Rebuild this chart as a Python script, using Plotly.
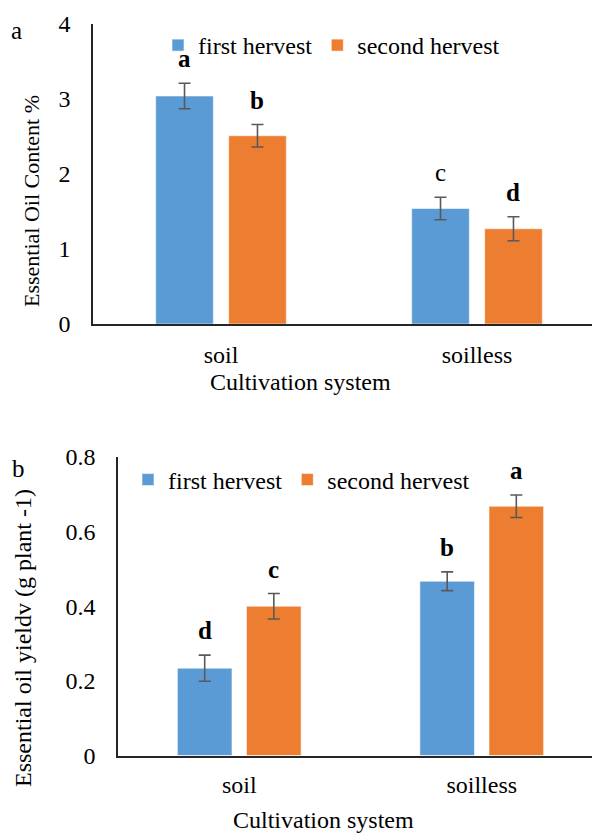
import plotly.graph_objects as go

# ---------------- data ----------------
categories = ["soil", "soilless"]
series_names = ["first hervest", "second hervest"]

oil_first = [3.04, 1.54]
oil_first_err = [0.17, 0.15]
oil_second = [2.51, 1.27]
oil_second_err = [0.15, 0.16]

yield_first = [0.234, 0.467]
yield_first_err = [0.035, 0.025]
yield_second = [0.40, 0.668]
yield_second_err = [0.034, 0.030]

oil_letters_first = ["a", "c"]
oil_letters_second = ["b", "d"]
yield_letters_first = ["d", "b"]
yield_letters_second = ["c", "a"]

oil_ticks = [0, 1, 2, 3, 4]
yield_ticks = [0, 0.2, 0.4, 0.6, 0.8]

# ---------------- style ----------------
FONT = "Liberation Serif"
BLUE = "#5B9BD5"
ORANGE = "#ED7D31"
ERR = "#595959"
AXIS = "#262626"
BARGAP = 0.43
BARGROUPGAP = 0.21
W, H = 600, 833
OFF = 8  # page body margin offset in the browser

# bold flags for significance letters (top chart 'c' is plain in the original)
oil_bold_first = [True, False]
oil_bold_second = [True, True]
yield_bold_first = [True, True]
yield_bold_second = [True, True]


def px_x(x):
    return (x - OFF) / W


def px_y(y):
    return 1 - (y - OFF) / H


fig = go.Figure()


def add_pair(xa, ya, legend, v1, e1, v2, e2):
    for name, vals, errs, col in [(series_names[0], v1, e1, BLUE),
                                  (series_names[1], v2, e2, ORANGE)]:
        fig.add_trace(go.Bar(
            x=categories, y=vals, name=name, xaxis=xa, yaxis=ya, legend=legend,
            marker=dict(color=col, line=dict(color="rgba(255,255,255,0.55)", width=1)),
            error_y=dict(type="data", array=errs, visible=True, color=ERR,
                         thickness=1.6, width=6),
        ))


add_pair("x", "y", "legend", oil_first, oil_first_err, oil_second, oil_second_err)
add_pair("x2", "y2", "legend2", yield_first, yield_first_err, yield_second, yield_second_err)

annotations = []


def letters(xref, yref, vals, errs, labs, bolds, side):
    off = (1 - BARGAP) / 4.0 * side
    for i, (v, e, t, b) in enumerate(zip(vals, errs, labs, bolds)):
        annotations.append(dict(
            x=i + off, y=v + e, xref=xref, yref=yref, text=f"<b>{t}</b>" if b else t,
            showarrow=False, yanchor="bottom", yshift=9,
            font=dict(family=FONT, size=25, color="black")))


letters("x", "y", oil_first, oil_first_err, oil_letters_first, oil_bold_first, -1)
letters("x", "y", oil_second, oil_second_err, oil_letters_second, oil_bold_second, 1)
letters("x2", "y2", yield_first, yield_first_err, yield_letters_first, yield_bold_first, -1)
letters("x2", "y2", yield_second, yield_second_err, yield_letters_second, yield_bold_second, 1)


def paper_text(text, px, py, size, angle=0):
    annotations.append(dict(
        x=px_x(px), y=px_y(py), xref="paper", yref="paper", text=text,
        showarrow=False, xanchor="center", yanchor="middle", textangle=angle,
        font=dict(family=FONT, size=size, color="black")))


paper_text("a", 16, 31, 25)
paper_text("b", 18, 468, 25)
paper_text("Essential Oil Content %", 32, 201, 22, -90)
paper_text("Essential oil yieldv (g plant -1)", 23, 638, 24, -90)
paper_text("Cultivation system", 300, 382, 24)
paper_text("Cultivation system", 323, 820, 24)

# geometry (target pixels)
top_axis_x, top_y0, top_y4 = 93, 324, 24
bot_axis_x, bot_y0, bot_y8 = 118, 755.5, 457
top_unit = 256.0
bot_unit = 242.5
right_edge = W + OFF

axis_common = dict(showline=True, linecolor=AXIS, linewidth=1.5, showgrid=False,
                   zeroline=False, ticks="", fixedrange=True, automargin=False,
                   tickfont=dict(family=FONT, size=24, color="black"))

fig.update_layout(
    width=W, height=H,
    margin=dict(l=0, r=0, t=0, b=0, autoexpand=False),
    paper_bgcolor="white", plot_bgcolor="white",
    barmode="group", bargap=BARGAP, bargroupgap=BARGROUPGAP,
    font=dict(family=FONT, color="black"),
    xaxis=dict(**axis_common, domain=[px_x(top_axis_x), 1], anchor="y",
               range=[-0.5, -0.5 + (right_edge - top_axis_x) / top_unit],
               ticklabelstandoff=8),
    yaxis=dict(**axis_common, domain=[px_y(top_y0), px_y(top_y4)], anchor="x",
               range=[0, 4], tickvals=oil_ticks, ticklabelstandoff=16),
    xaxis2=dict(**axis_common, domain=[px_x(bot_axis_x), 1], anchor="y2",
                range=[-0.5, -0.5 + (right_edge - bot_axis_x) / bot_unit],
                ticklabelstandoff=7),
    yaxis2=dict(**axis_common, domain=[px_y(bot_y0), px_y(bot_y8)], anchor="x2",
                range=[0, 0.8], tickvals=yield_ticks, ticktext=[f"{t:g}" for t in yield_ticks],
                ticklabelstandoff=16),
    legend=dict(orientation="h", x=px_x(158), y=px_y(45.5), xanchor="left", yanchor="middle",
                font=dict(family=FONT, size=24, color="black"), bgcolor="rgba(0,0,0,0)",
                traceorder="normal"),
    legend2=dict(orientation="h", x=px_x(128), y=px_y(480), xanchor="left", yanchor="middle",
                 font=dict(family=FONT, size=24, color="black"), bgcolor="rgba(0,0,0,0)",
                 traceorder="normal"),
    annotations=annotations,
    showlegend=True,
)

fig.write_html("out.html")
